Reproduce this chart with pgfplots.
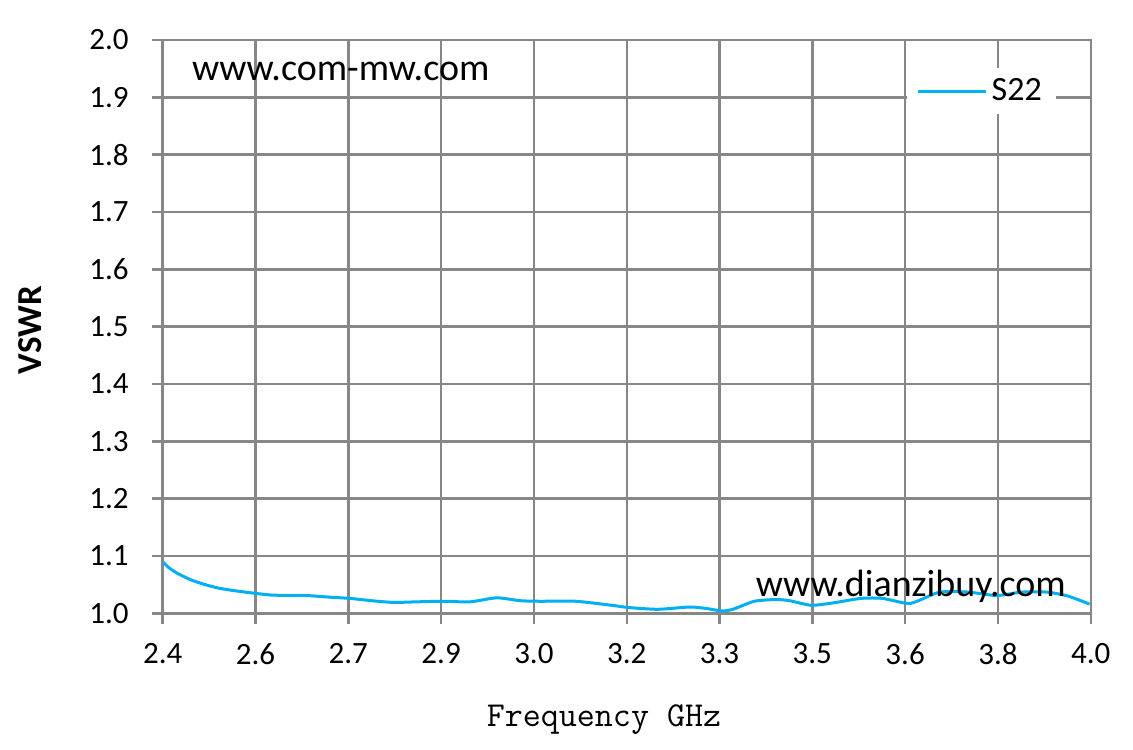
\documentclass[border=0pt]{standalone}
\usepackage{pgfplots}
\pgfplotsset{compat=1.18}
\usepackage{fontspec}
\setmainfont{Carlito}
\definecolor{sline}{HTML}{00B0F0}
\definecolor{gridc}{HTML}{878787}
\begin{document}
\begin{tikzpicture}
% 1 px of the reference = 0.5pt; axis origin at pixel (162.7, 613.3)
\path[use as bounding box] (-81.35pt,-67.85pt) rectangle (485.15pt,306.65pt);
\begin{axis}[
  at={(0pt,0pt)}, anchor=origin,
  scale only axis, width=464pt, height=286.65pt,
  xmin=2.4, xmax=4.0, ymin=1.0, ymax=2.0,
  xtick={2.4,2.56,2.72,2.88,3.04,3.2,3.36,3.52,3.68,3.84,4.0},
  xticklabels={2.4,2.6,2.7,2.9,3.0,3.2,3.3,3.5,3.6,3.8,4.0},
  ytick distance=0.1,
  y tick label style={/pgf/number format/fixed, /pgf/number format/fixed zerofill, /pgf/number format/precision=1, xshift=-8pt},
  /pgf/number format/assume math mode=true,
  tick label style={font=\fontsize{15.5}{18}\selectfont, black},
  x tick label style={yshift=-6pt},
  grid=major,
  major grid style={gridc, line width=1.2pt},
  axis line style={gridc, line width=1.2pt},
  tick style={gridc, line width=1.2pt},
  major tick length=5.5pt,
  tick align=outside, tick pos=left,
  xlabel={\ttfamily\fontsize{17.5}{20}\selectfont Frequency GHz},
  xlabel style={at={(axis description cs:0.4755,-0.186)}, anchor=center},
  ylabel={\bfseries\fontsize{17.5}{20}\selectfont VSWR},
  ylabel style={at={(axis description cs:-0.143,0.494)}, anchor=center},
  legend style={at={(axis description cs:0.882,0.911)}, anchor=center,
    draw=none, fill=white, font=\fontsize{17}{20}\selectfont,
    inner xsep=5pt, inner ysep=3pt},
  legend image code/.code={\draw[#1, line width=1.5pt] (0pt,0pt) -- (34pt,0pt);},
]
\addplot[sline, line width=1.5pt, smooth, tension=0.4] coordinates {
(2.400,1.090) (2.410,1.080) (2.425,1.070) (2.447,1.059) (2.470,1.051)
(2.496,1.044) (2.520,1.040) (2.550,1.036) (2.585,1.032) (2.620,1.031)
(2.648,1.031) (2.690,1.028) (2.723,1.026) (2.760,1.022) (2.798,1.019)
(2.838,1.020) (2.884,1.021) (2.930,1.020) (2.976,1.027) (3.016,1.022)
(3.051,1.021) (3.112,1.021) (3.174,1.014) (3.204,1.010) (3.254,1.007)
(3.309,1.011) (3.340,1.008) (3.364,1.004) (3.383,1.007) (3.420,1.021)
(3.457,1.024) (3.481,1.022) (3.518,1.014) (3.555,1.018) (3.604,1.026)
(3.641,1.026) (3.684,1.017) (3.703,1.022) (3.740,1.037) (3.789,1.037)
(3.838,1.031) (3.881,1.037) (3.924,1.037) (3.961,1.030) (3.998,1.016)
};
\addlegendentry{S22}
\node[anchor=base, font=\fontsize{19}{22}\selectfont] at (axis cs:2.707,1.930) {www.com-mw.com};
\node[anchor=base, font=\fontsize{19}{22}\selectfont] at (axis cs:3.690,1.029) {www.dianzibuy.com};
\end{axis}
\end{tikzpicture}
\end{document}
